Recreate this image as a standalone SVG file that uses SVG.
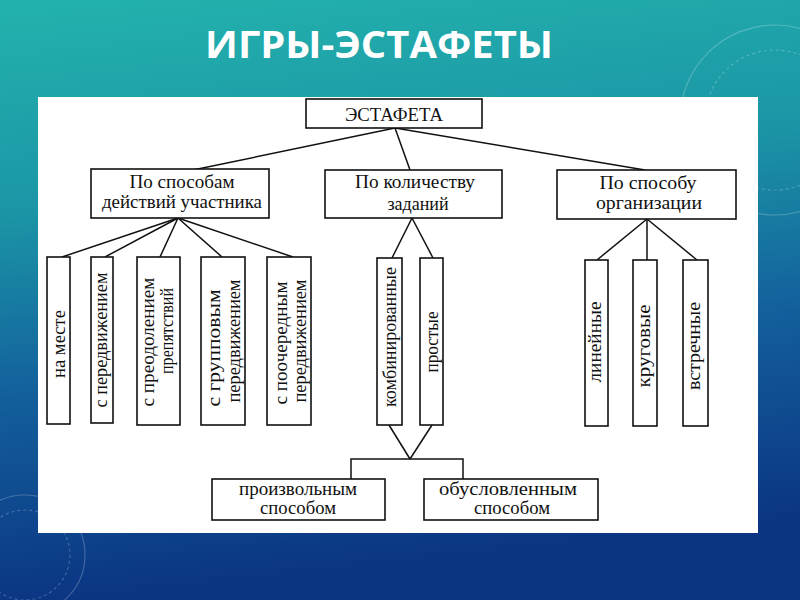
<svg xmlns="http://www.w3.org/2000/svg" width="800" height="600" viewBox="0 0 800 600">
  <defs>
    <linearGradient id="bg" x1="0" y1="0" x2="0.15" y2="1">
      <stop offset="0" stop-color="#23b3ad"/>
      <stop offset="0.35" stop-color="#1b95a6"/>
      <stop offset="0.65" stop-color="#135f9c"/>
      <stop offset="1" stop-color="#0b3482"/>
    </linearGradient>
    <style>
      .box { fill: #ffffff; stroke: #111111; stroke-width: 1.6; }
      .conn { stroke: #111111; stroke-width: 1.5; fill: none; }
      .t { font-family: "Liberation Serif", "DejaVu Serif", serif; font-size: 18px; fill: #111111; text-anchor: middle; }
      .tv { font-family: "Liberation Serif", "DejaVu Serif", serif; font-size: 19px; fill: #111111; text-anchor: middle; }
      .title { font-family: "Open Sans", "Liberation Sans", sans-serif; font-weight: bold; font-size: 38px; fill: #ffffff; text-anchor: middle; }
      .deco { fill: none; stroke: #ffffff; stroke-opacity: 0.22; stroke-width: 1.2; }
    </style>
  </defs>

  <!-- background -->
  <rect x="0" y="0" width="800" height="600" fill="url(#bg)"/>
  <circle class="deco" cx="775" cy="120" r="95"/>
  <circle class="deco" cx="775" cy="120" r="70" stroke-dasharray="3 3"/>
  <circle class="deco" cx="25" cy="555" r="60"/>
  <circle class="deco" cx="25" cy="555" r="45" stroke-dasharray="3 3"/>

  <!-- title -->
  <text class="title" x="379" y="58" textLength="348" lengthAdjust="spacingAndGlyphs">ИГРЫ-ЭСТАФЕТЫ</text>

  <!-- white panel -->
  <rect x="38" y="97" width="720" height="436" fill="#ffffff"/>

  <!-- connectors -->
  <g id="connectors" class="conn">
    <line x1="395" y1="128" x2="193" y2="170"/>
    <line x1="395" y1="128" x2="410" y2="170"/>
    <line x1="395" y1="128" x2="645" y2="170"/>

    <line x1="178" y1="218" x2="62" y2="257"/>
    <line x1="178" y1="218" x2="105" y2="257"/>
    <line x1="178" y1="218" x2="160" y2="257"/>
    <line x1="178" y1="218" x2="222" y2="257"/>
    <line x1="178" y1="218" x2="293" y2="257"/>

    <line x1="412" y1="218" x2="392" y2="258"/>
    <line x1="412" y1="218" x2="433" y2="258"/>

    <line x1="647" y1="219" x2="597" y2="260"/>
    <line x1="647" y1="219" x2="647" y2="260"/>
    <line x1="647" y1="219" x2="697" y2="260"/>

    <line x1="389" y1="425" x2="410" y2="459"/>
    <line x1="432" y1="425" x2="410" y2="459"/>
    <polyline points="351,479 351,459 463,459 463,479"/>
  </g>

  <!-- level 0 -->
  <g id="node-estafeta">
    <rect class="box" x="306" y="99" width="176" height="29"/>
    <text class="t" x="394" y="121" font-size="20" textLength="98" lengthAdjust="spacingAndGlyphs">ЭСТАФЕТА</text>
  </g>

  <!-- level 1 -->
  <g id="node-sposoby">
    <rect class="box" x="91" y="169" width="178" height="49"/>
    <text class="t" x="182" y="188" textLength="105" lengthAdjust="spacingAndGlyphs">По способам</text>
    <text class="t" x="182" y="208" textLength="160" lengthAdjust="spacingAndGlyphs">действий участника</text>
  </g>
  <g id="node-kolichestvo">
    <rect class="box" x="325" y="170" width="177" height="48"/>
    <text class="t" x="415" y="188" font-size="17" textLength="120" lengthAdjust="spacingAndGlyphs">По количеству</text>
    <text class="t" x="418" y="210" font-size="17">заданий</text>
  </g>
  <g id="node-organizacia">
    <rect class="box" x="557" y="170" width="179" height="49"/>
    <text class="t" x="648" y="189" textLength="97" lengthAdjust="spacingAndGlyphs">По способу</text>
    <text class="t" x="649" y="209" textLength="106" lengthAdjust="spacingAndGlyphs">организации</text>
  </g>

  <!-- level 2 : vertical boxes -->
  <g id="node-na-meste">
    <rect class="box" x="47" y="257" width="23" height="167"/>
    <text class="tv" transform="translate(65,344) rotate(-90)" textLength="68" lengthAdjust="spacingAndGlyphs">на месте</text>
  </g>
  <g id="node-s-peredvizheniem">
    <rect class="box" x="91" y="257" width="22" height="166"/>
    <text class="tv" transform="translate(107,340) rotate(-90)" textLength="135" lengthAdjust="spacingAndGlyphs">с передвижением</text>
  </g>
  <g id="node-s-preodoleniem">
    <rect class="box" x="137" y="257" width="43" height="168"/>
    <text class="tv" transform="translate(154,342) rotate(-90)" textLength="129" lengthAdjust="spacingAndGlyphs">с преодолением</text>
    <text class="tv" transform="translate(173,331) rotate(-90)" font-size="18" textLength="86" lengthAdjust="spacingAndGlyphs">препятствий</text>
  </g>
  <g id="node-s-gruppovym">
    <rect class="box" x="201" y="257" width="44" height="168"/>
    <text class="tv" transform="translate(220,348) rotate(-90)" textLength="117" lengthAdjust="spacingAndGlyphs">с групповым</text>
    <text class="tv" transform="translate(240,341) rotate(-90)" textLength="123" lengthAdjust="spacingAndGlyphs">передвижением</text>
  </g>
  <g id="node-s-poocherednym">
    <rect class="box" x="267" y="257" width="44" height="168"/>
    <text class="tv" transform="translate(287,343) rotate(-90)" textLength="123" lengthAdjust="spacingAndGlyphs">с поочередным</text>
    <text class="tv" transform="translate(306,341) rotate(-90)" textLength="123" lengthAdjust="spacingAndGlyphs">передвижением</text>
  </g>

  <g id="node-kombinirovannye">
    <rect class="box" x="377" y="258" width="25" height="167"/>
    <text class="tv" transform="translate(396,337) rotate(-90)" textLength="140" lengthAdjust="spacingAndGlyphs">комбинированные</text>
  </g>
  <g id="node-prostye">
    <rect class="box" x="420" y="258" width="23" height="167"/>
    <text class="tv" transform="translate(438,342) rotate(-90)" textLength="61" lengthAdjust="spacingAndGlyphs">простые</text>
  </g>

  <g id="node-lineynye">
    <rect class="box" x="585" y="260" width="23" height="166"/>
    <text class="tv" transform="translate(601,342) rotate(-90)" textLength="81" lengthAdjust="spacingAndGlyphs">линейные</text>
  </g>
  <g id="node-krugovye">
    <rect class="box" x="633" y="260" width="24" height="166"/>
    <text class="tv" transform="translate(650,346) rotate(-90)" textLength="83" lengthAdjust="spacingAndGlyphs">круговые</text>
  </g>
  <g id="node-vstrechnye">
    <rect class="box" x="683" y="260" width="25" height="166"/>
    <text class="tv" transform="translate(700,346) rotate(-90)" textLength="88" lengthAdjust="spacingAndGlyphs">встречные</text>
  </g>

  <!-- level 3 -->
  <g id="node-proizvolnym">
    <rect class="box" x="212" y="479" width="173" height="41"/>
    <text class="t" x="298" y="495" textLength="118" lengthAdjust="spacingAndGlyphs">произвольным</text>
    <text class="t" x="298" y="514" textLength="76" lengthAdjust="spacingAndGlyphs">способом</text>
  </g>
  <g id="node-obuslovlennym">
    <rect class="box" x="424" y="479" width="174" height="41"/>
    <text class="t" x="508" y="495" textLength="138" lengthAdjust="spacingAndGlyphs">обусловленным</text>
    <text class="t" x="512" y="514" textLength="76" lengthAdjust="spacingAndGlyphs">способом</text>
  </g>
</svg>
